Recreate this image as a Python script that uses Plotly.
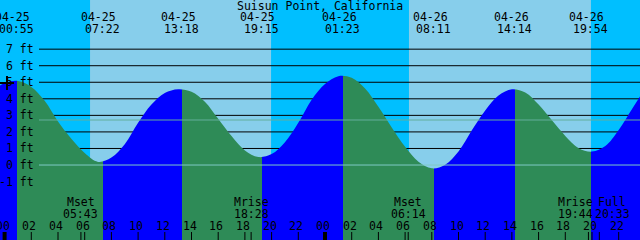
import plotly.graph_objects as go

# ---------------- data (hours since 04-25 00:00, heights in ft) ----------------
tide_t = list(range(-1, 49))
tide_h = [4.45, 4.95, 5.08, 4.72, 3.88, 2.63, 1.58, 0.72, 0.19,
          0.45, 1.25, 2.55, 3.65, 4.35, 4.58,
          4.43, 3.83, 2.80, 1.75, 0.88, 0.48,
          0.66, 1.38, 2.55, 3.95, 4.90, 5.37,
          5.27, 4.63, 3.52, 2.27, 1.10, 0.20, -0.20,
          0.02, 0.82, 2.10, 3.30, 4.20, 4.58,
          4.38, 3.65, 2.70, 1.76, 1.02, 0.81,
          1.15, 2.12, 3.38, 4.65]

ext_t = [0.917, 7.367, 13.30, 19.25, 25.383, 32.183, 38.233, 43.90]
ext_date = ["04-25", "04-25", "04-25", "04-25", "04-26", "04-26", "04-26", "04-26"]
ext_time = ["00:55", "07:22", "13:18", "19:15", "01:23", "08:11", "14:14", "19:54"]

sun_t = [6.40, 19.96, 30.29, 43.92]          # sunrise, sunset, sunrise, sunset

moon_t = [5.717, 18.467, 30.233, 43.733, 44.55]
moon_name = ["Mset", "Mrise", "Mset", "Mrise", "Full"]
moon_time = ["05:43", "18:28", "06:14", "19:44", "20:33"]

hour_t = list(range(0, 49, 2))
hour_lbl = ["%02d" % (h % 24) for h in hour_t]

ft_levels = [-1, 0, 1, 2, 3, 4, 5, 6, 7]
grid_levels = [1, 2, 3, 4, 5, 6, 7]
msl_level = 2.72
datum_level = 0.0

mark_t = [0.18]
mark_h = [4.95]

title = "Suisun Point, California"

# ---------------- style ----------------
W, H = 640, 240
X0, X1 = -0.3446, 47.596
Y0, Y1 = -4.53, 9.97
C_DAY, C_NIGHT = "#87CEEB", "#00BFFF"
C_RISE, C_FALL = "#0000FF", "#2E8B57"
C_MSL, C_DATUM = "#62AE9C", "#7FC9C6"
FONT = dict(family="DejaVu Sans Mono", size=11.5, color="black")
LINE_START = 39 / W
moon_shift = [0, 0, 0, -13, 13]


def py(px):  # pixel row -> paper y
    return 1 - px / H


fig = go.Figure()

# tide fill with rising/falling colours
T0, T1 = tide_t[0], tide_t[-1]
bounds = [T0] + ext_t + [T1]
stops = []
rising = True
for a, b in zip(bounds[:-1], bounds[1:]):
    c = C_RISE if rising else C_FALL
    stops.append([(a - T0) / (T1 - T0), c])
    stops.append([(b - T0) / (T1 - T0), c])
    rising = not rising
stops[0][0] = 0.0
stops[-1][0] = 1.0

fig.add_trace(go.Scatter(x=tide_t, y=[Y0 - 2] * len(tide_t), mode="lines",
                         line=dict(width=0), hoverinfo="skip", showlegend=False))
fig.add_trace(go.Scatter(x=tide_t, y=tide_h, mode="lines",
                         line=dict(width=0, shape="spline", smoothing=1, color=C_RISE),
                         fill="tonexty",
                         fillgradient=dict(type="horizontal", colorscale=stops,
                                           start=T0, stop=T1),
                         hoverinfo="skip", showlegend=False))

# small cross mark
fig.add_trace(go.Scatter(x=mark_t, y=mark_h, mode="markers",
                         marker=dict(symbol="cross-thin", size=10,
                                     line=dict(width=2, color="black")),
                         hoverinfo="skip", showlegend=False))

shapes = []
for i in range(0, len(sun_t), 2):
    shapes.append(dict(type="rect", xref="x", yref="paper", x0=sun_t[i], x1=sun_t[i + 1],
                       y0=0, y1=1, fillcolor=C_DAY, line=dict(width=0), layer="below"))
for lv in grid_levels:
    shapes.append(dict(type="line", xref="paper", yref="y", x0=LINE_START, x1=1,
                       y0=lv, y1=lv, line=dict(color="black", width=1), layer="below"))
shapes.append(dict(type="line", xref="paper", yref="y", x0=LINE_START, x1=1,
                   y0=msl_level, y1=msl_level, line=dict(color=C_MSL, width=1), layer="above"))
shapes.append(dict(type="line", xref="paper", yref="y", x0=LINE_START, x1=1,
                   y0=datum_level, y1=datum_level, line=dict(color=C_DATUM, width=1), layer="above"))
for h in hour_t:
    shapes.append(dict(type="line", xref="x", yref="paper", x0=h, x1=h,
                       y0=0, y1=8 / H, line=dict(color="black", width=4 if h % 24 == 0 else 1)))
for m in moon_t:
    shapes.append(dict(type="line", xref="x", yref="paper", x0=m, x1=m,
                       y0=0, y1=8 / H, line=dict(color="black", width=1)))

ann = []
ann.append(dict(text=title, xref="paper", yref="paper", x=0.5, y=py(6),
                xanchor="center", yanchor="middle", showarrow=False, font=FONT))
for t, d, tm in zip(ext_t, ext_date, ext_time):
    ann.append(dict(text=d, xref="x", yref="paper", x=t, y=py(17), xshift=-4,
                    xanchor="center", yanchor="middle", showarrow=False, font=FONT))
    ann.append(dict(text=tm, xref="x", yref="paper", x=t, y=py(29), xshift=-0.5,
                    xanchor="center", yanchor="middle", showarrow=False, font=FONT))
for lv in ft_levels:
    ann.append(dict(text="%d ft" % lv, xref="paper", yref="y", x=36 / W, y=lv,
                    xanchor="right", yanchor="middle", showarrow=False, font=FONT))
for t, n, tm, s in zip(moon_t, moon_name, moon_time, moon_shift):
    ann.append(dict(text=n, xref="x", yref="paper", x=t, y=py(202), xshift=s,
                    xanchor="center", yanchor="middle", showarrow=False, font=FONT))
    ann.append(dict(text=tm, xref="x", yref="paper", x=t, y=py(213.5), xshift=s,
                    xanchor="center", yanchor="middle", showarrow=False, font=FONT))
for h, l in zip(hour_t, hour_lbl):
    ann.append(dict(text=l, xref="x", yref="paper", x=h, y=py(226), xshift=-2,
                    xanchor="center", yanchor="middle", showarrow=False, font=FONT))

fig.update_layout(
    width=W, height=H, margin=dict(l=0, r=0, t=0, b=0),
    paper_bgcolor=C_NIGHT, plot_bgcolor=C_NIGHT,
    xaxis=dict(range=[X0, X1], visible=False, fixedrange=True),
    yaxis=dict(range=[Y0, Y1], visible=False, fixedrange=True),
    shapes=shapes, annotations=ann, showlegend=False,
)

fig.write_html("out.html")
